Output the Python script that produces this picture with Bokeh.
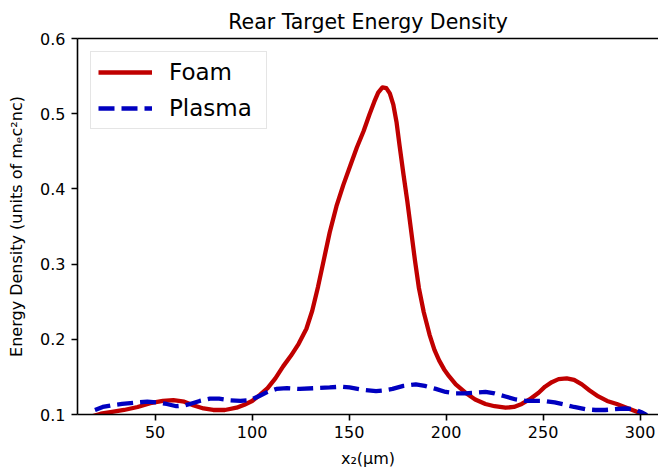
from bokeh.plotting import figure
from bokeh.models import LinearAxis, FixedTicker, Legend, LegendItem, Range1d
from bokeh.embed import file_html
from bokeh.resources import INLINE

# ---- data ----
foam_x = [18, 22, 27, 34, 41, 47.5, 54, 59.4, 65, 70, 75, 80, 86, 92, 96, 100, 104, 108, 112,
          116, 120, 124, 128, 131, 134, 137, 140, 143.5, 147, 150.5, 154, 157.5, 160.5, 163, 165,
          167.2, 169.2, 171, 172.8, 174.5, 176, 178, 180, 182, 184, 186, 188.5, 191.5, 194, 196.4, 199,
          201.5, 205, 210, 215, 220.3, 225, 230.6, 235, 239, 243, 247.7, 251, 254.5, 258, 262.2,
          266, 270, 274, 278.5, 283, 288, 292, 296, 300, 303]
foam_y = [0.098, 0.101, 0.103, 0.106, 0.110, 0.115, 0.118, 0.119, 0.117, 0.112, 0.108, 0.106,
          0.106, 0.109, 0.113, 0.118, 0.126, 0.135, 0.148, 0.164, 0.178, 0.194, 0.214, 0.238,
          0.270, 0.306, 0.342, 0.377, 0.405, 0.430, 0.455, 0.477, 0.499, 0.516, 0.528,
          0.535, 0.534, 0.527, 0.512, 0.488, 0.458, 0.420, 0.384, 0.344, 0.304, 0.268, 0.236, 0.206, 0.186,
          0.172, 0.160, 0.151, 0.140, 0.129, 0.120, 0.114, 0.111, 0.109, 0.110, 0.114, 0.120,
          0.129, 0.137, 0.143, 0.147, 0.148, 0.146, 0.140, 0.132, 0.124, 0.118, 0.114, 0.110,
          0.106, 0.102, 0.098]

plasma_x = [19, 23, 27, 33, 40.7, 46, 51, 56, 61, 65, 68, 73, 78.3, 83, 88.5, 94, 98.8, 104, 108,
            112.5, 118, 124.5, 132, 140, 146, 150.2, 157, 163.9, 168, 172.4, 178, 184.4, 189,
            194.7, 199.8, 205, 210, 215, 220.3, 225, 230.6, 236, 241, 246, 251, 256, 261.4, 266,
            271.7, 277, 282, 287, 292.2, 297, 300.7, 303.5]
plasma_y = [0.106, 0.110, 0.112, 0.114, 0.116, 0.117, 0.116, 0.114, 0.111, 0.112, 0.114, 0.118,
            0.121, 0.121, 0.119, 0.118, 0.119, 0.125, 0.130, 0.134, 0.135, 0.134, 0.135, 0.136,
            0.137, 0.136, 0.133, 0.131, 0.132, 0.134, 0.138, 0.140, 0.138, 0.134, 0.130, 0.128,
            0.128, 0.129, 0.130, 0.128, 0.124, 0.120, 0.118, 0.118, 0.118, 0.116, 0.113, 0.110,
            0.107, 0.106, 0.106, 0.107, 0.108, 0.107, 0.103, 0.099]

x_ticks = [50, 100, 150, 200, 250, 300]
y_ticks = [0.1, 0.2, 0.3, 0.4, 0.5, 0.6]

FONT = "DejaVu Sans"
RED = "#c00000"
BLUE = "#0000c0"

p = figure(width=658, height=470, output_backend="svg", toolbar_location=None,
           x_range=Range1d(10, 309.5), y_range=Range1d(0.1, 0.6),
           min_border_left=77, min_border_right=0, min_border_top=38, min_border_bottom=55,
           title="Rear Target Energy Density")
p.outline_line_color = None
p.background_fill_color = "white"
p.border_fill_color = "white"
p.xgrid.visible = False
p.ygrid.visible = False

p.title.text_font = FONT
p.title.text_font_size = "20.5px"
p.title.text_font_style = "normal"
p.title.align = "center"
p.title.text_color = "black"

for ax in (p.xaxis[0], p.yaxis[0]):
    ax.axis_line_width = 1.6
    ax.axis_line_color = "black"
    ax.major_tick_line_width = 1.6
    ax.major_tick_line_color = "black"
    ax.major_tick_out = 6
    ax.major_tick_in = 0
    ax.minor_tick_line_color = None
    ax.major_label_text_font = FONT
    ax.major_label_text_font_size = "16px"
    ax.major_label_text_color = "black"
    ax.axis_label_text_font = FONT
    ax.axis_label_text_font_size = "16px"
    ax.axis_label_text_font_style = "normal"
    ax.axis_label_text_color = "black"

p.xaxis[0].ticker = FixedTicker(ticks=x_ticks)
p.yaxis[0].ticker = FixedTicker(ticks=y_ticks)
p.xaxis[0].axis_label = "x₂(μm)"
p.yaxis[0].axis_label = "Energy Density (units of mₑc²nᴄ)"
p.xaxis[0].major_label_standoff = 5
p.yaxis[0].major_label_standoff = 6
p.xaxis[0].axis_label_standoff = 8
p.yaxis[0].axis_label_standoff = 11

# top spine
top = LinearAxis(ticker=FixedTicker(ticks=[]), axis_line_width=1.6, axis_line_color="black",
                 major_tick_line_color=None, minor_tick_line_color=None,
                 major_label_text_font_size="0px")
p.add_layout(top, "above")

r_foam = p.line(foam_x, foam_y, line_color=RED, line_width=4.3, line_join="round")
r_plasma = p.line(plasma_x, plasma_y, line_color=BLUE, line_width=4.3, line_dash="16 7",
                  line_cap="butt")

legend = Legend(items=[LegendItem(label="Foam", renderers=[r_foam]),
                       LegendItem(label="Plasma", renderers=[r_plasma])],
                location="top_left", margin=13, padding=7, spacing=10,
                glyph_width=54, glyph_height=26, label_height=26, label_width=90,
                label_standoff=17, label_text_font=FONT, label_text_font_size="23px",
                label_text_color="black",
                border_line_color="#cccccc", border_line_width=1.2,
                background_fill_color="white", background_fill_alpha=0.8)
p.add_layout(legend, "center")

open("out.html", "w").write(file_html(p, INLINE))
